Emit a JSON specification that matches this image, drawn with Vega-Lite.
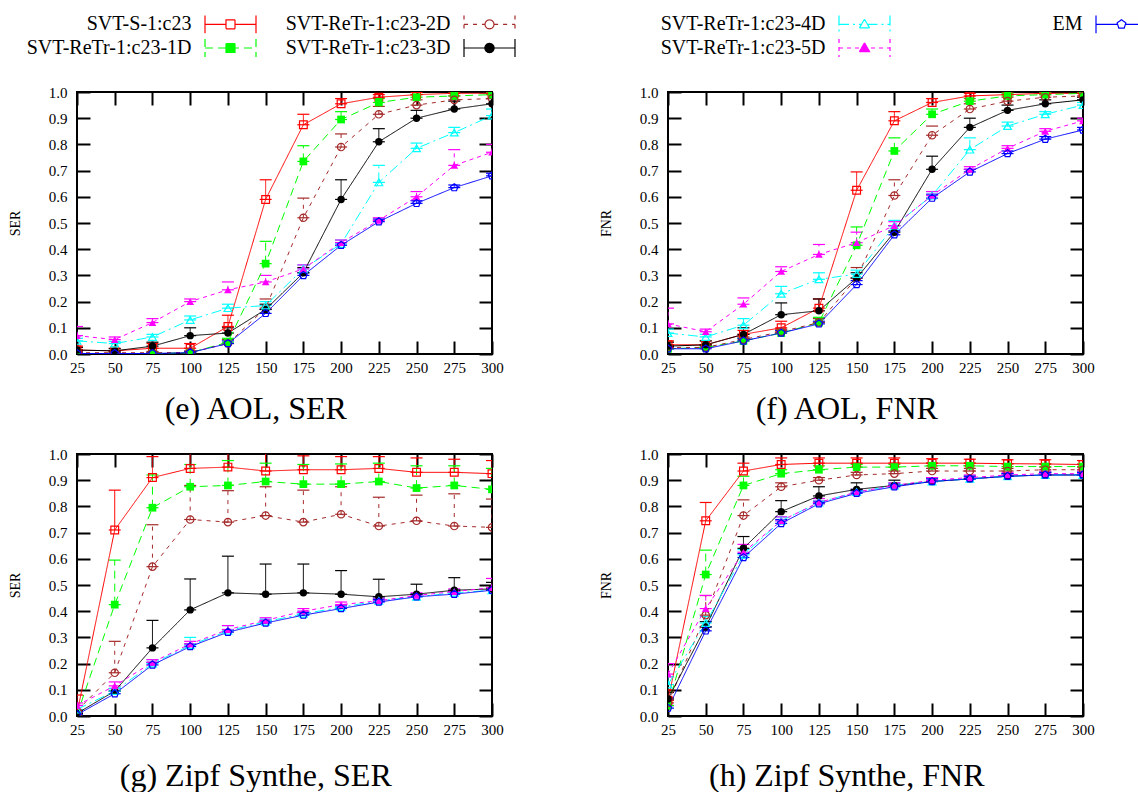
{
  "$schema": "https://vega.github.io/schema/vega-lite/v6.json",
  "padding": {"left": 7, "top": 14, "right": 0, "bottom": 0},
  "config": {
    "font": "Liberation Serif",
    "view": {"stroke": "black", "strokeWidth": 2},
    "axis": {"domain": false, "grid": false, "tickColor": "black", "tickWidth": 2, "tickSize": -13, "zindex": 1,
      "labelFont": "Liberation Serif", "labelFontSize": 15, "labelColor": "black",
      "titleFont": "Liberation Serif", "titleFontSize": 14, "titleFontWeight": "normal", "titleColor": "black"},
    "legend": {"padding": 0}
  },
  "datasets": {
    "runs": [
      {"p":"e","s":"SVT-S-1:c23","x":25,"y":0.015,"hi":0.03},{"p":"e","s":"SVT-S-1:c23","x":50,"y":0.012,"hi":0.022},{"p":"e","s":"SVT-S-1:c23","x":75,"y":0.022,"hi":0.04},{"p":"e","s":"SVT-S-1:c23","x":100,"y":0.022,"hi":0.04},{"p":"e","s":"SVT-S-1:c23","x":125,"y":0.105,"hi":0.148},{"p":"e","s":"SVT-S-1:c23","x":150,"y":0.59,"hi":0.665},{"p":"e","s":"SVT-S-1:c23","x":175,"y":0.875,"hi":0.915},{"p":"e","s":"SVT-S-1:c23","x":200,"y":0.955,"hi":0.975},{"p":"e","s":"SVT-S-1:c23","x":225,"y":0.98,"hi":0.99},{"p":"e","s":"SVT-S-1:c23","x":250,"y":0.99,"hi":0.998},{"p":"e","s":"SVT-S-1:c23","x":275,"y":0.995,"hi":1},{"p":"e","s":"SVT-S-1:c23","x":300,"y":0.995,"hi":1},
      {"p":"e","s":"SVT-ReTr-1:c23-1D","x":25,"y":0.002,"hi":0.006},{"p":"e","s":"SVT-ReTr-1:c23-1D","x":50,"y":0.002,"hi":0.006},{"p":"e","s":"SVT-ReTr-1:c23-1D","x":75,"y":0.002,"hi":0.006},{"p":"e","s":"SVT-ReTr-1:c23-1D","x":100,"y":0.005,"hi":0.01},{"p":"e","s":"SVT-ReTr-1:c23-1D","x":125,"y":0.045,"hi":0.06},{"p":"e","s":"SVT-ReTr-1:c23-1D","x":150,"y":0.345,"hi":0.43},{"p":"e","s":"SVT-ReTr-1:c23-1D","x":175,"y":0.735,"hi":0.795},{"p":"e","s":"SVT-ReTr-1:c23-1D","x":200,"y":0.895,"hi":0.925},{"p":"e","s":"SVT-ReTr-1:c23-1D","x":225,"y":0.96,"hi":0.975},{"p":"e","s":"SVT-ReTr-1:c23-1D","x":250,"y":0.98,"hi":0.99},{"p":"e","s":"SVT-ReTr-1:c23-1D","x":275,"y":0.985,"hi":0.995},{"p":"e","s":"SVT-ReTr-1:c23-1D","x":300,"y":0.99,"hi":0.998},
      {"p":"e","s":"SVT-ReTr-1:c23-2D","x":25,"y":0.005,"hi":0.01},{"p":"e","s":"SVT-ReTr-1:c23-2D","x":50,"y":0.005,"hi":0.01},{"p":"e","s":"SVT-ReTr-1:c23-2D","x":75,"y":0.005,"hi":0.01},{"p":"e","s":"SVT-ReTr-1:c23-2D","x":100,"y":0.006,"hi":0.012},{"p":"e","s":"SVT-ReTr-1:c23-2D","x":125,"y":0.04,"hi":0.055},{"p":"e","s":"SVT-ReTr-1:c23-2D","x":150,"y":0.175,"hi":0.21},{"p":"e","s":"SVT-ReTr-1:c23-2D","x":175,"y":0.52,"hi":0.595},{"p":"e","s":"SVT-ReTr-1:c23-2D","x":200,"y":0.79,"hi":0.84},{"p":"e","s":"SVT-ReTr-1:c23-2D","x":225,"y":0.915,"hi":0.945},{"p":"e","s":"SVT-ReTr-1:c23-2D","x":250,"y":0.95,"hi":0.97},{"p":"e","s":"SVT-ReTr-1:c23-2D","x":275,"y":0.97,"hi":0.985},{"p":"e","s":"SVT-ReTr-1:c23-2D","x":300,"y":0.975,"hi":0.99},
      {"p":"e","s":"SVT-ReTr-1:c23-3D","x":25,"y":0.015,"hi":0.025},{"p":"e","s":"SVT-ReTr-1:c23-3D","x":50,"y":0.012,"hi":0.02},{"p":"e","s":"SVT-ReTr-1:c23-3D","x":75,"y":0.03,"hi":0.045},{"p":"e","s":"SVT-ReTr-1:c23-3D","x":100,"y":0.07,"hi":0.1},{"p":"e","s":"SVT-ReTr-1:c23-3D","x":125,"y":0.08,"hi":0.1},{"p":"e","s":"SVT-ReTr-1:c23-3D","x":150,"y":0.17,"hi":0.19},{"p":"e","s":"SVT-ReTr-1:c23-3D","x":175,"y":0.31,"hi":0.33},{"p":"e","s":"SVT-ReTr-1:c23-3D","x":200,"y":0.59,"hi":0.665},{"p":"e","s":"SVT-ReTr-1:c23-3D","x":225,"y":0.81,"hi":0.86},{"p":"e","s":"SVT-ReTr-1:c23-3D","x":250,"y":0.9,"hi":0.93},{"p":"e","s":"SVT-ReTr-1:c23-3D","x":275,"y":0.935,"hi":0.965},{"p":"e","s":"SVT-ReTr-1:c23-3D","x":300,"y":0.955,"hi":0.975},
      {"p":"e","s":"SVT-ReTr-1:c23-4D","x":25,"y":0.05,"hi":0.06},{"p":"e","s":"SVT-ReTr-1:c23-4D","x":50,"y":0.04,"hi":0.048},{"p":"e","s":"SVT-ReTr-1:c23-4D","x":75,"y":0.065,"hi":0.075},{"p":"e","s":"SVT-ReTr-1:c23-4D","x":100,"y":0.13,"hi":0.145},{"p":"e","s":"SVT-ReTr-1:c23-4D","x":125,"y":0.175,"hi":0.19},{"p":"e","s":"SVT-ReTr-1:c23-4D","x":150,"y":0.185,"hi":0.2},{"p":"e","s":"SVT-ReTr-1:c23-4D","x":175,"y":0.325,"hi":0.34},{"p":"e","s":"SVT-ReTr-1:c23-4D","x":200,"y":0.42,"hi":0.435},{"p":"e","s":"SVT-ReTr-1:c23-4D","x":225,"y":0.655,"hi":0.72},{"p":"e","s":"SVT-ReTr-1:c23-4D","x":250,"y":0.785,"hi":0.805},{"p":"e","s":"SVT-ReTr-1:c23-4D","x":275,"y":0.845,"hi":0.865},{"p":"e","s":"SVT-ReTr-1:c23-4D","x":300,"y":0.91,"hi":0.935},
      {"p":"e","s":"SVT-ReTr-1:c23-5D","x":25,"y":0.07,"hi":0.105},{"p":"e","s":"SVT-ReTr-1:c23-5D","x":50,"y":0.055,"hi":0.065},{"p":"e","s":"SVT-ReTr-1:c23-5D","x":75,"y":0.12,"hi":0.135},{"p":"e","s":"SVT-ReTr-1:c23-5D","x":100,"y":0.2,"hi":0.21},{"p":"e","s":"SVT-ReTr-1:c23-5D","x":125,"y":0.245,"hi":0.275},{"p":"e","s":"SVT-ReTr-1:c23-5D","x":150,"y":0.275,"hi":0.3},{"p":"e","s":"SVT-ReTr-1:c23-5D","x":175,"y":0.325,"hi":0.34},{"p":"e","s":"SVT-ReTr-1:c23-5D","x":200,"y":0.425,"hi":0.435},{"p":"e","s":"SVT-ReTr-1:c23-5D","x":225,"y":0.51,"hi":0.52},{"p":"e","s":"SVT-ReTr-1:c23-5D","x":250,"y":0.6,"hi":0.62},{"p":"e","s":"SVT-ReTr-1:c23-5D","x":275,"y":0.72,"hi":0.78},{"p":"e","s":"SVT-ReTr-1:c23-5D","x":300,"y":0.77,"hi":0.8},
      {"p":"e","s":"EM","x":25,"y":0.002,"hi":0.006},{"p":"e","s":"EM","x":50,"y":0.002,"hi":0.006},{"p":"e","s":"EM","x":75,"y":0.002,"hi":0.006},{"p":"e","s":"EM","x":100,"y":0.005,"hi":0.01},{"p":"e","s":"EM","x":125,"y":0.04,"hi":0.05},{"p":"e","s":"EM","x":150,"y":0.155,"hi":0.17},{"p":"e","s":"EM","x":175,"y":0.3,"hi":0.31},{"p":"e","s":"EM","x":200,"y":0.415,"hi":0.425},{"p":"e","s":"EM","x":225,"y":0.505,"hi":0.515},{"p":"e","s":"EM","x":250,"y":0.575,"hi":0.585},{"p":"e","s":"EM","x":275,"y":0.635,"hi":0.645},{"p":"e","s":"EM","x":300,"y":0.68,"hi":0.69},

      {"p":"f","s":"SVT-S-1:c23","x":25,"y":0.035,"hi":0.05},{"p":"f","s":"SVT-S-1:c23","x":50,"y":0.035,"hi":0.05},{"p":"f","s":"SVT-S-1:c23","x":75,"y":0.075,"hi":0.09},{"p":"f","s":"SVT-S-1:c23","x":100,"y":0.1,"hi":0.125},{"p":"f","s":"SVT-S-1:c23","x":125,"y":0.175,"hi":0.21},{"p":"f","s":"SVT-S-1:c23","x":150,"y":0.625,"hi":0.695},{"p":"f","s":"SVT-S-1:c23","x":175,"y":0.89,"hi":0.925},{"p":"f","s":"SVT-S-1:c23","x":200,"y":0.96,"hi":0.975},{"p":"f","s":"SVT-S-1:c23","x":225,"y":0.985,"hi":0.995},{"p":"f","s":"SVT-S-1:c23","x":250,"y":0.99,"hi":1},{"p":"f","s":"SVT-S-1:c23","x":275,"y":0.995,"hi":1},{"p":"f","s":"SVT-S-1:c23","x":300,"y":0.995,"hi":1},
      {"p":"f","s":"SVT-ReTr-1:c23-1D","x":25,"y":0.02,"hi":0.03},{"p":"f","s":"SVT-ReTr-1:c23-1D","x":50,"y":0.025,"hi":0.035},{"p":"f","s":"SVT-ReTr-1:c23-1D","x":75,"y":0.05,"hi":0.06},{"p":"f","s":"SVT-ReTr-1:c23-1D","x":100,"y":0.08,"hi":0.09},{"p":"f","s":"SVT-ReTr-1:c23-1D","x":125,"y":0.12,"hi":0.14},{"p":"f","s":"SVT-ReTr-1:c23-1D","x":150,"y":0.415,"hi":0.485},{"p":"f","s":"SVT-ReTr-1:c23-1D","x":175,"y":0.775,"hi":0.825},{"p":"f","s":"SVT-ReTr-1:c23-1D","x":200,"y":0.915,"hi":0.935},{"p":"f","s":"SVT-ReTr-1:c23-1D","x":225,"y":0.965,"hi":0.975},{"p":"f","s":"SVT-ReTr-1:c23-1D","x":250,"y":0.985,"hi":0.995},{"p":"f","s":"SVT-ReTr-1:c23-1D","x":275,"y":0.99,"hi":0.998},{"p":"f","s":"SVT-ReTr-1:c23-1D","x":300,"y":0.995,"hi":1},
      {"p":"f","s":"SVT-ReTr-1:c23-2D","x":25,"y":0.025,"hi":0.035},{"p":"f","s":"SVT-ReTr-1:c23-2D","x":50,"y":0.025,"hi":0.035},{"p":"f","s":"SVT-ReTr-1:c23-2D","x":75,"y":0.055,"hi":0.065},{"p":"f","s":"SVT-ReTr-1:c23-2D","x":100,"y":0.085,"hi":0.095},{"p":"f","s":"SVT-ReTr-1:c23-2D","x":125,"y":0.12,"hi":0.135},{"p":"f","s":"SVT-ReTr-1:c23-2D","x":150,"y":0.29,"hi":0.33},{"p":"f","s":"SVT-ReTr-1:c23-2D","x":175,"y":0.605,"hi":0.665},{"p":"f","s":"SVT-ReTr-1:c23-2D","x":200,"y":0.835,"hi":0.87},{"p":"f","s":"SVT-ReTr-1:c23-2D","x":225,"y":0.935,"hi":0.955},{"p":"f","s":"SVT-ReTr-1:c23-2D","x":250,"y":0.965,"hi":0.98},{"p":"f","s":"SVT-ReTr-1:c23-2D","x":275,"y":0.98,"hi":0.99},{"p":"f","s":"SVT-ReTr-1:c23-2D","x":300,"y":0.985,"hi":0.995},
      {"p":"f","s":"SVT-ReTr-1:c23-3D","x":25,"y":0.03,"hi":0.045},{"p":"f","s":"SVT-ReTr-1:c23-3D","x":50,"y":0.035,"hi":0.05},{"p":"f","s":"SVT-ReTr-1:c23-3D","x":75,"y":0.075,"hi":0.1},{"p":"f","s":"SVT-ReTr-1:c23-3D","x":100,"y":0.15,"hi":0.195},{"p":"f","s":"SVT-ReTr-1:c23-3D","x":125,"y":0.165,"hi":0.21},{"p":"f","s":"SVT-ReTr-1:c23-3D","x":150,"y":0.29,"hi":0.31},{"p":"f","s":"SVT-ReTr-1:c23-3D","x":175,"y":0.465,"hi":0.49},{"p":"f","s":"SVT-ReTr-1:c23-3D","x":200,"y":0.705,"hi":0.755},{"p":"f","s":"SVT-ReTr-1:c23-3D","x":225,"y":0.865,"hi":0.9},{"p":"f","s":"SVT-ReTr-1:c23-3D","x":250,"y":0.93,"hi":0.95},{"p":"f","s":"SVT-ReTr-1:c23-3D","x":275,"y":0.955,"hi":0.97},{"p":"f","s":"SVT-ReTr-1:c23-3D","x":300,"y":0.97,"hi":0.98},
      {"p":"f","s":"SVT-ReTr-1:c23-4D","x":25,"y":0.08,"hi":0.095},{"p":"f","s":"SVT-ReTr-1:c23-4D","x":50,"y":0.065,"hi":0.075},{"p":"f","s":"SVT-ReTr-1:c23-4D","x":75,"y":0.11,"hi":0.135},{"p":"f","s":"SVT-ReTr-1:c23-4D","x":100,"y":0.23,"hi":0.258},{"p":"f","s":"SVT-ReTr-1:c23-4D","x":125,"y":0.285,"hi":0.31},{"p":"f","s":"SVT-ReTr-1:c23-4D","x":150,"y":0.305,"hi":0.32},{"p":"f","s":"SVT-ReTr-1:c23-4D","x":175,"y":0.49,"hi":0.51},{"p":"f","s":"SVT-ReTr-1:c23-4D","x":200,"y":0.605,"hi":0.62},{"p":"f","s":"SVT-ReTr-1:c23-4D","x":225,"y":0.78,"hi":0.825},{"p":"f","s":"SVT-ReTr-1:c23-4D","x":250,"y":0.87,"hi":0.885},{"p":"f","s":"SVT-ReTr-1:c23-4D","x":275,"y":0.915,"hi":0.925},{"p":"f","s":"SVT-ReTr-1:c23-4D","x":300,"y":0.95,"hi":0.96},
      {"p":"f","s":"SVT-ReTr-1:c23-5D","x":25,"y":0.115,"hi":0.175},{"p":"f","s":"SVT-ReTr-1:c23-5D","x":50,"y":0.085,"hi":0.095},{"p":"f","s":"SVT-ReTr-1:c23-5D","x":75,"y":0.19,"hi":0.214},{"p":"f","s":"SVT-ReTr-1:c23-5D","x":100,"y":0.315,"hi":0.333},{"p":"f","s":"SVT-ReTr-1:c23-5D","x":125,"y":0.38,"hi":0.418},{"p":"f","s":"SVT-ReTr-1:c23-5D","x":150,"y":0.425,"hi":0.465},{"p":"f","s":"SVT-ReTr-1:c23-5D","x":175,"y":0.49,"hi":0.505},{"p":"f","s":"SVT-ReTr-1:c23-5D","x":200,"y":0.605,"hi":0.62},{"p":"f","s":"SVT-ReTr-1:c23-5D","x":225,"y":0.705,"hi":0.715},{"p":"f","s":"SVT-ReTr-1:c23-5D","x":250,"y":0.785,"hi":0.795},{"p":"f","s":"SVT-ReTr-1:c23-5D","x":275,"y":0.85,"hi":0.86},{"p":"f","s":"SVT-ReTr-1:c23-5D","x":300,"y":0.89,"hi":0.9},
      {"p":"f","s":"EM","x":25,"y":0.02,"hi":0.03},{"p":"f","s":"EM","x":50,"y":0.02,"hi":0.03},{"p":"f","s":"EM","x":75,"y":0.05,"hi":0.06},{"p":"f","s":"EM","x":100,"y":0.08,"hi":0.09},{"p":"f","s":"EM","x":125,"y":0.115,"hi":0.125},{"p":"f","s":"EM","x":150,"y":0.265,"hi":0.28},{"p":"f","s":"EM","x":175,"y":0.455,"hi":0.47},{"p":"f","s":"EM","x":200,"y":0.595,"hi":0.61},{"p":"f","s":"EM","x":225,"y":0.695,"hi":0.705},{"p":"f","s":"EM","x":250,"y":0.765,"hi":0.775},{"p":"f","s":"EM","x":275,"y":0.82,"hi":0.83},{"p":"f","s":"EM","x":300,"y":0.855,"hi":0.865},

      {"p":"g","s":"SVT-S-1:c23","x":25,"y":0.01,"hi":0.08},{"p":"g","s":"SVT-S-1:c23","x":50,"y":0.71,"hi":0.862},{"p":"g","s":"SVT-S-1:c23","x":75,"y":0.91,"hi":0.99},{"p":"g","s":"SVT-S-1:c23","x":100,"y":0.945,"hi":1.05},{"p":"g","s":"SVT-S-1:c23","x":125,"y":0.95,"hi":1.05},{"p":"g","s":"SVT-S-1:c23","x":150,"y":0.935,"hi":1.02},{"p":"g","s":"SVT-S-1:c23","x":175,"y":0.94,"hi":0.993},{"p":"g","s":"SVT-S-1:c23","x":200,"y":0.94,"hi":0.99},{"p":"g","s":"SVT-S-1:c23","x":225,"y":0.945,"hi":0.99},{"p":"g","s":"SVT-S-1:c23","x":250,"y":0.93,"hi":0.985},{"p":"g","s":"SVT-S-1:c23","x":275,"y":0.93,"hi":0.98},{"p":"g","s":"SVT-S-1:c23","x":300,"y":0.925,"hi":0.975},
      {"p":"g","s":"SVT-ReTr-1:c23-1D","x":25,"y":0.005,"hi":0.02},{"p":"g","s":"SVT-ReTr-1:c23-1D","x":50,"y":0.425,"hi":0.595},{"p":"g","s":"SVT-ReTr-1:c23-1D","x":75,"y":0.795,"hi":0.92},{"p":"g","s":"SVT-ReTr-1:c23-1D","x":100,"y":0.875,"hi":0.96},{"p":"g","s":"SVT-ReTr-1:c23-1D","x":125,"y":0.88,"hi":0.975},{"p":"g","s":"SVT-ReTr-1:c23-1D","x":150,"y":0.895,"hi":0.965},{"p":"g","s":"SVT-ReTr-1:c23-1D","x":175,"y":0.885,"hi":0.96},{"p":"g","s":"SVT-ReTr-1:c23-1D","x":200,"y":0.885,"hi":0.962},{"p":"g","s":"SVT-ReTr-1:c23-1D","x":225,"y":0.895,"hi":0.965},{"p":"g","s":"SVT-ReTr-1:c23-1D","x":250,"y":0.87,"hi":0.955},{"p":"g","s":"SVT-ReTr-1:c23-1D","x":275,"y":0.88,"hi":0.955},{"p":"g","s":"SVT-ReTr-1:c23-1D","x":300,"y":0.865,"hi":0.945},
      {"p":"g","s":"SVT-ReTr-1:c23-2D","x":25,"y":0.02,"hi":0.04},{"p":"g","s":"SVT-ReTr-1:c23-2D","x":50,"y":0.165,"hi":0.285},{"p":"g","s":"SVT-ReTr-1:c23-2D","x":75,"y":0.57,"hi":0.73},{"p":"g","s":"SVT-ReTr-1:c23-2D","x":100,"y":0.75,"hi":0.88},{"p":"g","s":"SVT-ReTr-1:c23-2D","x":125,"y":0.74,"hi":0.86},{"p":"g","s":"SVT-ReTr-1:c23-2D","x":150,"y":0.765,"hi":0.875},{"p":"g","s":"SVT-ReTr-1:c23-2D","x":175,"y":0.74,"hi":0.862},{"p":"g","s":"SVT-ReTr-1:c23-2D","x":200,"y":0.77,"hi":0.875},{"p":"g","s":"SVT-ReTr-1:c23-2D","x":225,"y":0.725,"hi":0.835},{"p":"g","s":"SVT-ReTr-1:c23-2D","x":250,"y":0.745,"hi":0.843},{"p":"g","s":"SVT-ReTr-1:c23-2D","x":275,"y":0.725,"hi":0.848},{"p":"g","s":"SVT-ReTr-1:c23-2D","x":300,"y":0.72,"hi":0.828},
      {"p":"g","s":"SVT-ReTr-1:c23-3D","x":25,"y":0.01,"hi":0.02},{"p":"g","s":"SVT-ReTr-1:c23-3D","x":50,"y":0.095,"hi":0.105},{"p":"g","s":"SVT-ReTr-1:c23-3D","x":75,"y":0.26,"hi":0.365},{"p":"g","s":"SVT-ReTr-1:c23-3D","x":100,"y":0.405,"hi":0.523},{"p":"g","s":"SVT-ReTr-1:c23-3D","x":125,"y":0.47,"hi":0.61},{"p":"g","s":"SVT-ReTr-1:c23-3D","x":150,"y":0.465,"hi":0.58},{"p":"g","s":"SVT-ReTr-1:c23-3D","x":175,"y":0.47,"hi":0.58},{"p":"g","s":"SVT-ReTr-1:c23-3D","x":200,"y":0.465,"hi":0.555},{"p":"g","s":"SVT-ReTr-1:c23-3D","x":225,"y":0.455,"hi":0.522},{"p":"g","s":"SVT-ReTr-1:c23-3D","x":250,"y":0.465,"hi":0.503},{"p":"g","s":"SVT-ReTr-1:c23-3D","x":275,"y":0.48,"hi":0.528},{"p":"g","s":"SVT-ReTr-1:c23-3D","x":300,"y":0.485,"hi":0.51},
      {"p":"g","s":"SVT-ReTr-1:c23-4D","x":25,"y":0.025,"hi":0.04},{"p":"g","s":"SVT-ReTr-1:c23-4D","x":50,"y":0.095,"hi":0.105},{"p":"g","s":"SVT-ReTr-1:c23-4D","x":75,"y":0.2,"hi":0.215},{"p":"g","s":"SVT-ReTr-1:c23-4D","x":100,"y":0.27,"hi":0.3},{"p":"g","s":"SVT-ReTr-1:c23-4D","x":125,"y":0.325,"hi":0.345},{"p":"g","s":"SVT-ReTr-1:c23-4D","x":150,"y":0.36,"hi":0.37},{"p":"g","s":"SVT-ReTr-1:c23-4D","x":175,"y":0.39,"hi":0.4},{"p":"g","s":"SVT-ReTr-1:c23-4D","x":200,"y":0.415,"hi":0.425},{"p":"g","s":"SVT-ReTr-1:c23-4D","x":225,"y":0.44,"hi":0.45},{"p":"g","s":"SVT-ReTr-1:c23-4D","x":250,"y":0.455,"hi":0.465},{"p":"g","s":"SVT-ReTr-1:c23-4D","x":275,"y":0.47,"hi":0.48},{"p":"g","s":"SVT-ReTr-1:c23-4D","x":300,"y":0.48,"hi":0.49},
      {"p":"g","s":"SVT-ReTr-1:c23-5D","x":25,"y":0.04,"hi":0.05},{"p":"g","s":"SVT-ReTr-1:c23-5D","x":50,"y":0.115,"hi":0.13},{"p":"g","s":"SVT-ReTr-1:c23-5D","x":75,"y":0.205,"hi":0.215},{"p":"g","s":"SVT-ReTr-1:c23-5D","x":100,"y":0.275,"hi":0.285},{"p":"g","s":"SVT-ReTr-1:c23-5D","x":125,"y":0.33,"hi":0.345},{"p":"g","s":"SVT-ReTr-1:c23-5D","x":150,"y":0.365,"hi":0.375},{"p":"g","s":"SVT-ReTr-1:c23-5D","x":175,"y":0.4,"hi":0.41},{"p":"g","s":"SVT-ReTr-1:c23-5D","x":200,"y":0.425,"hi":0.435},{"p":"g","s":"SVT-ReTr-1:c23-5D","x":225,"y":0.44,"hi":0.45},{"p":"g","s":"SVT-ReTr-1:c23-5D","x":250,"y":0.46,"hi":0.47},{"p":"g","s":"SVT-ReTr-1:c23-5D","x":275,"y":0.475,"hi":0.485},{"p":"g","s":"SVT-ReTr-1:c23-5D","x":300,"y":0.49,"hi":0.525},
      {"p":"g","s":"EM","x":25,"y":0.005,"hi":0.012},{"p":"g","s":"EM","x":50,"y":0.085,"hi":0.095},{"p":"g","s":"EM","x":75,"y":0.195,"hi":0.205},{"p":"g","s":"EM","x":100,"y":0.265,"hi":0.275},{"p":"g","s":"EM","x":125,"y":0.32,"hi":0.33},{"p":"g","s":"EM","x":150,"y":0.355,"hi":0.365},{"p":"g","s":"EM","x":175,"y":0.385,"hi":0.395},{"p":"g","s":"EM","x":200,"y":0.41,"hi":0.42},{"p":"g","s":"EM","x":225,"y":0.435,"hi":0.445},{"p":"g","s":"EM","x":250,"y":0.455,"hi":0.465},{"p":"g","s":"EM","x":275,"y":0.465,"hi":0.475},{"p":"g","s":"EM","x":300,"y":0.48,"hi":0.49},

      {"p":"h","s":"SVT-S-1:c23","x":25,"y":0.06,"hi":0.1},{"p":"h","s":"SVT-S-1:c23","x":50,"y":0.745,"hi":0.815},{"p":"h","s":"SVT-S-1:c23","x":75,"y":0.935,"hi":0.965},{"p":"h","s":"SVT-S-1:c23","x":100,"y":0.96,"hi":0.985},{"p":"h","s":"SVT-S-1:c23","x":125,"y":0.965,"hi":0.985},{"p":"h","s":"SVT-S-1:c23","x":150,"y":0.965,"hi":0.985},{"p":"h","s":"SVT-S-1:c23","x":175,"y":0.965,"hi":0.985},{"p":"h","s":"SVT-S-1:c23","x":200,"y":0.965,"hi":0.982},{"p":"h","s":"SVT-S-1:c23","x":225,"y":0.965,"hi":0.98},{"p":"h","s":"SVT-S-1:c23","x":250,"y":0.963,"hi":0.978},{"p":"h","s":"SVT-S-1:c23","x":275,"y":0.962,"hi":0.978},{"p":"h","s":"SVT-S-1:c23","x":300,"y":0.96,"hi":0.975},
      {"p":"h","s":"SVT-ReTr-1:c23-1D","x":25,"y":0.04,"hi":0.06},{"p":"h","s":"SVT-ReTr-1:c23-1D","x":50,"y":0.54,"hi":0.633},{"p":"h","s":"SVT-ReTr-1:c23-1D","x":75,"y":0.88,"hi":0.915},{"p":"h","s":"SVT-ReTr-1:c23-1D","x":100,"y":0.925,"hi":0.94},{"p":"h","s":"SVT-ReTr-1:c23-1D","x":125,"y":0.94,"hi":0.955},{"p":"h","s":"SVT-ReTr-1:c23-1D","x":150,"y":0.95,"hi":0.96},{"p":"h","s":"SVT-ReTr-1:c23-1D","x":175,"y":0.95,"hi":0.96},{"p":"h","s":"SVT-ReTr-1:c23-1D","x":200,"y":0.955,"hi":0.965},{"p":"h","s":"SVT-ReTr-1:c23-1D","x":225,"y":0.955,"hi":0.965},{"p":"h","s":"SVT-ReTr-1:c23-1D","x":250,"y":0.952,"hi":0.962},{"p":"h","s":"SVT-ReTr-1:c23-1D","x":275,"y":0.952,"hi":0.962},{"p":"h","s":"SVT-ReTr-1:c23-1D","x":300,"y":0.952,"hi":0.962},
      {"p":"h","s":"SVT-ReTr-1:c23-2D","x":25,"y":0.05,"hi":0.07},{"p":"h","s":"SVT-ReTr-1:c23-2D","x":50,"y":0.385,"hi":0.46},{"p":"h","s":"SVT-ReTr-1:c23-2D","x":75,"y":0.765,"hi":0.825},{"p":"h","s":"SVT-ReTr-1:c23-2D","x":100,"y":0.875,"hi":0.89},{"p":"h","s":"SVT-ReTr-1:c23-2D","x":125,"y":0.9,"hi":0.91},{"p":"h","s":"SVT-ReTr-1:c23-2D","x":150,"y":0.92,"hi":0.93},{"p":"h","s":"SVT-ReTr-1:c23-2D","x":175,"y":0.925,"hi":0.935},{"p":"h","s":"SVT-ReTr-1:c23-2D","x":200,"y":0.935,"hi":0.945},{"p":"h","s":"SVT-ReTr-1:c23-2D","x":225,"y":0.935,"hi":0.945},{"p":"h","s":"SVT-ReTr-1:c23-2D","x":250,"y":0.935,"hi":0.945},{"p":"h","s":"SVT-ReTr-1:c23-2D","x":275,"y":0.94,"hi":0.95},{"p":"h","s":"SVT-ReTr-1:c23-2D","x":300,"y":0.94,"hi":0.95},
      {"p":"h","s":"SVT-ReTr-1:c23-3D","x":25,"y":0.065,"hi":0.09},{"p":"h","s":"SVT-ReTr-1:c23-3D","x":50,"y":0.34,"hi":0.36},{"p":"h","s":"SVT-ReTr-1:c23-3D","x":75,"y":0.64,"hi":0.685},{"p":"h","s":"SVT-ReTr-1:c23-3D","x":100,"y":0.78,"hi":0.822},{"p":"h","s":"SVT-ReTr-1:c23-3D","x":125,"y":0.84,"hi":0.875},{"p":"h","s":"SVT-ReTr-1:c23-3D","x":150,"y":0.865,"hi":0.89},{"p":"h","s":"SVT-ReTr-1:c23-3D","x":175,"y":0.88,"hi":0.9},{"p":"h","s":"SVT-ReTr-1:c23-3D","x":200,"y":0.895,"hi":0.91},{"p":"h","s":"SVT-ReTr-1:c23-3D","x":225,"y":0.905,"hi":0.915},{"p":"h","s":"SVT-ReTr-1:c23-3D","x":250,"y":0.915,"hi":0.925},{"p":"h","s":"SVT-ReTr-1:c23-3D","x":275,"y":0.92,"hi":0.93},{"p":"h","s":"SVT-ReTr-1:c23-3D","x":300,"y":0.92,"hi":0.93},
      {"p":"h","s":"SVT-ReTr-1:c23-4D","x":25,"y":0.12,"hi":0.15},{"p":"h","s":"SVT-ReTr-1:c23-4D","x":50,"y":0.355,"hi":0.38},{"p":"h","s":"SVT-ReTr-1:c23-4D","x":75,"y":0.615,"hi":0.635},{"p":"h","s":"SVT-ReTr-1:c23-4D","x":100,"y":0.745,"hi":0.76},{"p":"h","s":"SVT-ReTr-1:c23-4D","x":125,"y":0.815,"hi":0.83},{"p":"h","s":"SVT-ReTr-1:c23-4D","x":150,"y":0.855,"hi":0.865},{"p":"h","s":"SVT-ReTr-1:c23-4D","x":175,"y":0.88,"hi":0.89},{"p":"h","s":"SVT-ReTr-1:c23-4D","x":200,"y":0.895,"hi":0.905},{"p":"h","s":"SVT-ReTr-1:c23-4D","x":225,"y":0.905,"hi":0.915},{"p":"h","s":"SVT-ReTr-1:c23-4D","x":250,"y":0.915,"hi":0.925},{"p":"h","s":"SVT-ReTr-1:c23-4D","x":275,"y":0.92,"hi":0.93},{"p":"h","s":"SVT-ReTr-1:c23-4D","x":300,"y":0.92,"hi":0.93},
      {"p":"h","s":"SVT-ReTr-1:c23-5D","x":25,"y":0.16,"hi":0.2},{"p":"h","s":"SVT-ReTr-1:c23-5D","x":50,"y":0.41,"hi":0.46},{"p":"h","s":"SVT-ReTr-1:c23-5D","x":75,"y":0.625,"hi":0.655},{"p":"h","s":"SVT-ReTr-1:c23-5D","x":100,"y":0.745,"hi":0.76},{"p":"h","s":"SVT-ReTr-1:c23-5D","x":125,"y":0.815,"hi":0.83},{"p":"h","s":"SVT-ReTr-1:c23-5D","x":150,"y":0.855,"hi":0.865},{"p":"h","s":"SVT-ReTr-1:c23-5D","x":175,"y":0.88,"hi":0.89},{"p":"h","s":"SVT-ReTr-1:c23-5D","x":200,"y":0.9,"hi":0.91},{"p":"h","s":"SVT-ReTr-1:c23-5D","x":225,"y":0.91,"hi":0.92},{"p":"h","s":"SVT-ReTr-1:c23-5D","x":250,"y":0.92,"hi":0.93},{"p":"h","s":"SVT-ReTr-1:c23-5D","x":275,"y":0.925,"hi":0.935},{"p":"h","s":"SVT-ReTr-1:c23-5D","x":300,"y":0.925,"hi":0.935},
      {"p":"h","s":"EM","x":25,"y":0.03,"hi":0.04},{"p":"h","s":"EM","x":50,"y":0.325,"hi":0.34},{"p":"h","s":"EM","x":75,"y":0.605,"hi":0.62},{"p":"h","s":"EM","x":100,"y":0.735,"hi":0.75},{"p":"h","s":"EM","x":125,"y":0.81,"hi":0.82},{"p":"h","s":"EM","x":150,"y":0.85,"hi":0.86},{"p":"h","s":"EM","x":175,"y":0.875,"hi":0.885},{"p":"h","s":"EM","x":200,"y":0.895,"hi":0.905},{"p":"h","s":"EM","x":225,"y":0.905,"hi":0.915},{"p":"h","s":"EM","x":250,"y":0.915,"hi":0.925},{"p":"h","s":"EM","x":275,"y":0.92,"hi":0.93},{"p":"h","s":"EM","x":300,"y":0.92,"hi":0.93}
    ]
  },
  "spacing": 20,
  "vconcat": [
    {
      "spacing": 93,
      "hconcat": [
        {
          "width": 415, "height": 262,
          "data": {"name": "runs"},
          "transform": [{"filter": "datum.p === 'e'"}],
          "title": {"text": "(e) AOL, SER", "orient": "bottom", "anchor": "middle", "frame": "bounds", "offset": 19, "font": "Liberation Serif", "fontSize": 32, "fontWeight": "normal", "color": "black"},
          "encoding": {
            "x": {"field": "x", "type": "quantitative", "scale": {"domain": [25, 300], "nice": false, "zero": false}, "axis": null},
            "y": {"field": "y", "type": "quantitative", "scale": {"domain": [0, 1], "nice": false, "zero": false}, "axis": null}
          },
          "layer": [
            {"mark": {"type": "rule", "strokeWidth": 1, "clip": true},
             "encoding": {
               "x": {"field": "x", "type": "quantitative", "scale": {"domain": [25, 300], "nice": false, "zero": false}, "axis": {"orient": "bottom", "title": null, "values": [25,50,75,100,125,150,175,200,225,250,275,300], "labelFlush": false, "labelPadding": 19}},
               "y": {"field": "y", "type": "quantitative", "scale": {"domain": [0, 1], "nice": false, "zero": false}, "axis": {"orient": "left", "title": "SER", "values": [0,0.1,0.2,0.3,0.4,0.5,0.6,0.7,0.8,0.9,1], "format": ".1f", "labelPadding": 23, "titlePadding": 26}},
               "y2": {"field": "hi"},
               "color": {"field": "s", "type": "nominal", "scale": {"domain": ["SVT-S-1:c23","SVT-ReTr-1:c23-1D","SVT-ReTr-1:c23-2D","SVT-ReTr-1:c23-3D","SVT-ReTr-1:c23-4D","SVT-ReTr-1:c23-5D","EM"], "range": ["#ff0000","#00ff00","#a52a2a","#000000","#00ffff","#ff00ff","#0000ff"]}},
               "strokeDash": {"field": "s", "type": "nominal", "scale": {"domain": ["SVT-S-1:c23","SVT-ReTr-1:c23-1D","SVT-ReTr-1:c23-2D","SVT-ReTr-1:c23-3D","SVT-ReTr-1:c23-4D","SVT-ReTr-1:c23-5D","EM"], "range": [[1,0],[8,5],[4,5],[1,0],[10,4,2,4],[4,4],[1,0]]}}
             }},
            {"mark": {"type": "point", "shape": "stroke", "filled": false, "size": 144, "strokeWidth": 1.2, "opacity": 1, "clip": true},
             "encoding": {
               "x": {"field": "x", "type": "quantitative", "axis": {"orient": "top", "title": null, "labels": false, "values": [25,50,75,100,125,150,175,200,225,250,275,300]}},
               "y": {"field": "hi", "type": "quantitative", "axis": {"orient": "right", "title": null, "labels": false, "values": [0,0.1,0.2,0.3,0.4,0.5,0.6,0.7,0.8,0.9,1]}},
               "color": {"field": "s", "type": "nominal"}
             }},
            {"mark": {"type": "point", "shape": "stroke", "filled": false, "size": 144, "strokeWidth": 1.2, "opacity": 1, "clip": true},
             "encoding": {"color": {"field": "s", "type": "nominal"}}},
            {"mark": {"type": "line", "strokeWidth": 1, "clip": true},
             "encoding": {"color": {"field": "s", "type": "nominal"}, "strokeDash": {"field": "s", "type": "nominal"}}},
            {"transform": [{"filter": "datum.s === 'SVT-S-1:c23'"}], "mark": {"type": "point", "shape": "square", "filled": false, "color": "#ff0000", "size": 60, "strokeWidth": 1.2, "opacity": 1, "clip": true}},
            {"transform": [{"filter": "datum.s === 'SVT-ReTr-1:c23-1D'"}], "mark": {"type": "point", "shape": "square", "filled": true, "color": "#00ff00", "size": 60, "opacity": 1, "clip": true}},
            {"transform": [{"filter": "datum.s === 'SVT-ReTr-1:c23-2D'"}], "mark": {"type": "point", "shape": "circle", "filled": false, "color": "#a52a2a", "size": 55, "strokeWidth": 1.2, "opacity": 1, "clip": true}},
            {"transform": [{"filter": "datum.s === 'SVT-ReTr-1:c23-3D'"}], "mark": {"type": "point", "shape": "circle", "filled": true, "color": "#000000", "size": 55, "opacity": 1, "clip": true}},
            {"transform": [{"filter": "datum.s === 'SVT-ReTr-1:c23-4D'"}], "mark": {"type": "point", "shape": "triangle-up", "filled": false, "color": "#00ffff", "size": 60, "strokeWidth": 1.2, "opacity": 1, "clip": true}},
            {"transform": [{"filter": "datum.s === 'SVT-ReTr-1:c23-5D'"}], "mark": {"type": "point", "shape": "triangle-up", "filled": true, "color": "#ff00ff", "size": 60, "opacity": 1, "clip": true}},
            {"transform": [{"filter": "datum.s === 'EM'"}], "mark": {"type": "point", "shape": "M0,-1L0.951,-0.309L0.588,0.809L-0.588,0.809L-0.951,-0.309Z", "filled": false, "color": "#0000ff", "size": 60, "strokeWidth": 1.2, "opacity": 1, "clip": true}},
            {"transform": [{"filter": "datum.x < 0"}],
             "mark": {"type": "point", "filled": false, "opacity": 1, "size": 324, "strokeWidth": 1.2},
             "encoding": {
               "color": {"field": "s", "type": "nominal"},
               "strokeDash": {"field": "s", "type": "nominal"},
               "fill": {"field": "s", "type": "nominal", "scale": {"domain": ["SVT-S-1:c23","SVT-ReTr-1:c23-1D","SVT-ReTr-1:c23-2D","SVT-ReTr-1:c23-3D","SVT-ReTr-1:c23-4D","SVT-ReTr-1:c23-5D","EM"], "range": ["transparent","#00ff00","transparent","#000000","transparent","#ff00ff","transparent"]}},
               "shape": {"field": "s", "type": "nominal",
                 "scale": {"domain": ["SVT-S-1:c23","SVT-ReTr-1:c23-1D","SVT-ReTr-1:c23-2D","SVT-ReTr-1:c23-3D","SVT-ReTr-1:c23-4D","SVT-ReTr-1:c23-5D","EM"],
                   "range": [
                     "M-25.39,0M-2.833,-0.992V0.992M2.833,-0.992V0.992M-2.833,0H-0.5M0.5,0H2.833M-0.5,-0.5H0.5V0.5H-0.5Z",
                     "M-25.39,0M-2.833,-0.992V0.992M2.833,-0.992V0.992M-2.833,0H2.833M-0.5,-0.5H0.5V0.5H-0.5ZM-0.5,-0.5H0M0,-0.5H0.5M0.5,-0.5V0M0.5,0V0.5M0.5,0.5H0M0,0.5H-0.5M-0.5,0.5V0M-0.5,0V-0.5",
                     "M-25.39,0M-2.833,-0.992V0.992M2.833,-0.992V0.992M-2.833,0H-0.51M0.51,0H2.833M0.51,0L0.442,0.255M0.442,0.255L0.255,0.442M0.255,0.442L0,0.51M0,0.51L-0.255,0.442M-0.255,0.442L-0.442,0.255M-0.442,0.255L-0.51,0M-0.51,0L-0.442,-0.255M-0.442,-0.255L-0.255,-0.442M-0.255,-0.442L0,-0.51M0,-0.51L0.255,-0.442M0.255,-0.442L0.442,-0.255M0.442,-0.255L0.51,0",
                     "M-25.39,0M-2.833,-0.992V0.992M2.833,-0.992V0.992M-2.833,0H2.833M0.51,0A0.51,0.51,0,1,1,-0.51,0A0.51,0.51,0,1,1,0.51,0Z",
                     "M-38.19,0M-2.833,-0.992V0.992M2.833,-0.992V0.992M-2.833,0H-0.334M0.334,0H2.833M0,-0.567L0.283,-0.085M0.283,-0.085L0.567,0.397M0.567,0.397L0,0.397M0,0.397L-0.567,0.397M-0.567,0.397L-0.283,-0.085M-0.283,-0.085L0,-0.567",
                     "M-38.19,0M-2.833,-0.992V0.992M2.833,-0.992V0.992M-2.833,0H2.833M0,-0.567L0.567,0.397L-0.567,0.397ZM0,-0.567L0.189,-0.246M0.189,-0.246L0.378,0.076M0.378,0.076L0.567,0.397M0.567,0.397L0.189,0.397M0.189,0.397L-0.189,0.397M-0.189,0.397L-0.567,0.397M-0.567,0.397L-0.378,0.076M-0.378,0.076L-0.189,-0.246M-0.189,-0.246L0,-0.567",
                     "M-25.14,0M-2.833,-0.992V0.992M2.833,-0.992V0.992M-2.833,0H-0.434M0.434,0H2.833M0,-0.51L0.485,-0.159L0.3,0.414L-0.3,0.414L-0.485,-0.159Z"
                   ]},
                 "legend": {
                   "values": ["SVT-S-1:c23","SVT-ReTr-1:c23-2D","SVT-ReTr-1:c23-4D","EM","SVT-ReTr-1:c23-1D","SVT-ReTr-1:c23-3D","SVT-ReTr-1:c23-5D"],
                   "orient": "none", "legendX": 143.5, "legendY": -78, "direction": "horizontal",
                   "columns": 4, "columnPadding": 0, "rowPadding": 0, "gridAlign": "each", "title": null,
                   "labelFont": "Liberation Serif", "labelFontSize": 20, "labelColor": "black",
                   "labelAlign": "right", "labelOffset": -49, "labelLimit": 400,
                   "symbolSize": 324, "symbolStrokeWidth": 1.2, "symbolOpacity": 1, "symbolOffset": 0
                 }}
             }}
          ],
          "resolve": {"axis": {"x": "independent", "y": "independent"}}
        },
        {
          "width": 415, "height": 262,
          "data": {"name": "runs"},
          "transform": [{"filter": "datum.p === 'f'"}],
          "title": {"text": "(f) AOL, FNR", "orient": "bottom", "anchor": "middle", "frame": "bounds", "offset": 19, "font": "Liberation Serif", "fontSize": 32, "fontWeight": "normal", "color": "black"},
          "encoding": {
            "x": {"field": "x", "type": "quantitative", "scale": {"domain": [25, 300], "nice": false, "zero": false}, "axis": null},
            "y": {"field": "y", "type": "quantitative", "scale": {"domain": [0, 1], "nice": false, "zero": false}, "axis": null}
          },
          "layer": [
            {"mark": {"type": "rule", "strokeWidth": 1, "clip": true},
             "encoding": {
               "x": {"field": "x", "type": "quantitative", "scale": {"domain": [25, 300], "nice": false, "zero": false}, "axis": {"orient": "bottom", "title": null, "values": [25,50,75,100,125,150,175,200,225,250,275,300], "labelFlush": false, "labelPadding": 19}},
               "y": {"field": "y", "type": "quantitative", "scale": {"domain": [0, 1], "nice": false, "zero": false}, "axis": {"orient": "left", "title": "FNR", "values": [0,0.1,0.2,0.3,0.4,0.5,0.6,0.7,0.8,0.9,1], "format": ".1f", "labelPadding": 23, "titlePadding": 26}},
               "y2": {"field": "hi"},
               "color": {"field": "s", "type": "nominal"},
               "strokeDash": {"field": "s", "type": "nominal"}
             }},
            {"mark": {"type": "point", "shape": "stroke", "filled": false, "size": 144, "strokeWidth": 1.2, "opacity": 1, "clip": true},
             "encoding": {
               "x": {"field": "x", "type": "quantitative", "axis": {"orient": "top", "title": null, "labels": false, "values": [25,50,75,100,125,150,175,200,225,250,275,300]}},
               "y": {"field": "hi", "type": "quantitative", "axis": {"orient": "right", "title": null, "labels": false, "values": [0,0.1,0.2,0.3,0.4,0.5,0.6,0.7,0.8,0.9,1]}},
               "color": {"field": "s", "type": "nominal"}
             }},
            {"mark": {"type": "point", "shape": "stroke", "filled": false, "size": 144, "strokeWidth": 1.2, "opacity": 1, "clip": true},
             "encoding": {"color": {"field": "s", "type": "nominal"}}},
            {"mark": {"type": "line", "strokeWidth": 1, "clip": true},
             "encoding": {"color": {"field": "s", "type": "nominal"}, "strokeDash": {"field": "s", "type": "nominal"}}},
            {"transform": [{"filter": "datum.s === 'SVT-S-1:c23'"}], "mark": {"type": "point", "shape": "square", "filled": false, "color": "#ff0000", "size": 60, "strokeWidth": 1.2, "opacity": 1, "clip": true}},
            {"transform": [{"filter": "datum.s === 'SVT-ReTr-1:c23-1D'"}], "mark": {"type": "point", "shape": "square", "filled": true, "color": "#00ff00", "size": 60, "opacity": 1, "clip": true}},
            {"transform": [{"filter": "datum.s === 'SVT-ReTr-1:c23-2D'"}], "mark": {"type": "point", "shape": "circle", "filled": false, "color": "#a52a2a", "size": 55, "strokeWidth": 1.2, "opacity": 1, "clip": true}},
            {"transform": [{"filter": "datum.s === 'SVT-ReTr-1:c23-3D'"}], "mark": {"type": "point", "shape": "circle", "filled": true, "color": "#000000", "size": 55, "opacity": 1, "clip": true}},
            {"transform": [{"filter": "datum.s === 'SVT-ReTr-1:c23-4D'"}], "mark": {"type": "point", "shape": "triangle-up", "filled": false, "color": "#00ffff", "size": 60, "strokeWidth": 1.2, "opacity": 1, "clip": true}},
            {"transform": [{"filter": "datum.s === 'SVT-ReTr-1:c23-5D'"}], "mark": {"type": "point", "shape": "triangle-up", "filled": true, "color": "#ff00ff", "size": 60, "opacity": 1, "clip": true}},
            {"transform": [{"filter": "datum.s === 'EM'"}], "mark": {"type": "point", "shape": "M0,-1L0.951,-0.309L0.588,0.809L-0.588,0.809L-0.951,-0.309Z", "filled": false, "color": "#0000ff", "size": 60, "strokeWidth": 1.2, "opacity": 1, "clip": true}}
          ],
          "resolve": {"axis": {"x": "independent", "y": "independent"}}
        }
      ]
    },
    {
      "spacing": 93,
      "hconcat": [
        {
          "width": 415, "height": 262,
          "data": {"name": "runs"},
          "transform": [{"filter": "datum.p === 'g'"}],
          "title": {"text": "(g) Zipf Synthe, SER", "orient": "bottom", "anchor": "middle", "frame": "bounds", "offset": 24, "font": "Liberation Serif", "fontSize": 32, "fontWeight": "normal", "color": "black"},
          "encoding": {
            "x": {"field": "x", "type": "quantitative", "scale": {"domain": [25, 300], "nice": false, "zero": false}, "axis": null},
            "y": {"field": "y", "type": "quantitative", "scale": {"domain": [0, 1], "nice": false, "zero": false}, "axis": null}
          },
          "layer": [
            {"mark": {"type": "rule", "strokeWidth": 1, "clip": true},
             "encoding": {
               "x": {"field": "x", "type": "quantitative", "scale": {"domain": [25, 300], "nice": false, "zero": false}, "axis": {"orient": "bottom", "title": null, "values": [25,50,75,100,125,150,175,200,225,250,275,300], "labelFlush": false, "labelPadding": 19}},
               "y": {"field": "y", "type": "quantitative", "scale": {"domain": [0, 1], "nice": false, "zero": false}, "axis": {"orient": "left", "title": "SER", "values": [0,0.1,0.2,0.3,0.4,0.5,0.6,0.7,0.8,0.9,1], "format": ".1f", "labelPadding": 23, "titlePadding": 26}},
               "y2": {"field": "hi"},
               "color": {"field": "s", "type": "nominal"},
               "strokeDash": {"field": "s", "type": "nominal"}
             }},
            {"mark": {"type": "point", "shape": "stroke", "filled": false, "size": 144, "strokeWidth": 1.2, "opacity": 1, "clip": true},
             "encoding": {
               "x": {"field": "x", "type": "quantitative", "axis": {"orient": "top", "title": null, "labels": false, "values": [25,50,75,100,125,150,175,200,225,250,275,300]}},
               "y": {"field": "hi", "type": "quantitative", "axis": {"orient": "right", "title": null, "labels": false, "values": [0,0.1,0.2,0.3,0.4,0.5,0.6,0.7,0.8,0.9,1]}},
               "color": {"field": "s", "type": "nominal"}
             }},
            {"mark": {"type": "point", "shape": "stroke", "filled": false, "size": 144, "strokeWidth": 1.2, "opacity": 1, "clip": true},
             "encoding": {"color": {"field": "s", "type": "nominal"}}},
            {"mark": {"type": "line", "strokeWidth": 1, "clip": true},
             "encoding": {"color": {"field": "s", "type": "nominal"}, "strokeDash": {"field": "s", "type": "nominal"}}},
            {"transform": [{"filter": "datum.s === 'SVT-S-1:c23'"}], "mark": {"type": "point", "shape": "square", "filled": false, "color": "#ff0000", "size": 60, "strokeWidth": 1.2, "opacity": 1, "clip": true}},
            {"transform": [{"filter": "datum.s === 'SVT-ReTr-1:c23-1D'"}], "mark": {"type": "point", "shape": "square", "filled": true, "color": "#00ff00", "size": 60, "opacity": 1, "clip": true}},
            {"transform": [{"filter": "datum.s === 'SVT-ReTr-1:c23-2D'"}], "mark": {"type": "point", "shape": "circle", "filled": false, "color": "#a52a2a", "size": 55, "strokeWidth": 1.2, "opacity": 1, "clip": true}},
            {"transform": [{"filter": "datum.s === 'SVT-ReTr-1:c23-3D'"}], "mark": {"type": "point", "shape": "circle", "filled": true, "color": "#000000", "size": 55, "opacity": 1, "clip": true}},
            {"transform": [{"filter": "datum.s === 'SVT-ReTr-1:c23-4D'"}], "mark": {"type": "point", "shape": "triangle-up", "filled": false, "color": "#00ffff", "size": 60, "strokeWidth": 1.2, "opacity": 1, "clip": true}},
            {"transform": [{"filter": "datum.s === 'SVT-ReTr-1:c23-5D'"}], "mark": {"type": "point", "shape": "triangle-up", "filled": true, "color": "#ff00ff", "size": 60, "opacity": 1, "clip": true}},
            {"transform": [{"filter": "datum.s === 'EM'"}], "mark": {"type": "point", "shape": "M0,-1L0.951,-0.309L0.588,0.809L-0.588,0.809L-0.951,-0.309Z", "filled": false, "color": "#0000ff", "size": 60, "strokeWidth": 1.2, "opacity": 1, "clip": true}}
          ],
          "resolve": {"axis": {"x": "independent", "y": "independent"}}
        },
        {
          "width": 415, "height": 262,
          "data": {"name": "runs"},
          "transform": [{"filter": "datum.p === 'h'"}],
          "title": {"text": "(h) Zipf Synthe, FNR", "orient": "bottom", "anchor": "middle", "frame": "bounds", "offset": 24, "font": "Liberation Serif", "fontSize": 32, "fontWeight": "normal", "color": "black"},
          "encoding": {
            "x": {"field": "x", "type": "quantitative", "scale": {"domain": [25, 300], "nice": false, "zero": false}, "axis": null},
            "y": {"field": "y", "type": "quantitative", "scale": {"domain": [0, 1], "nice": false, "zero": false}, "axis": null}
          },
          "layer": [
            {"mark": {"type": "rule", "strokeWidth": 1, "clip": true},
             "encoding": {
               "x": {"field": "x", "type": "quantitative", "scale": {"domain": [25, 300], "nice": false, "zero": false}, "axis": {"orient": "bottom", "title": null, "values": [25,50,75,100,125,150,175,200,225,250,275,300], "labelFlush": false, "labelPadding": 19}},
               "y": {"field": "y", "type": "quantitative", "scale": {"domain": [0, 1], "nice": false, "zero": false}, "axis": {"orient": "left", "title": "FNR", "values": [0,0.1,0.2,0.3,0.4,0.5,0.6,0.7,0.8,0.9,1], "format": ".1f", "labelPadding": 23, "titlePadding": 26}},
               "y2": {"field": "hi"},
               "color": {"field": "s", "type": "nominal"},
               "strokeDash": {"field": "s", "type": "nominal"}
             }},
            {"mark": {"type": "point", "shape": "stroke", "filled": false, "size": 144, "strokeWidth": 1.2, "opacity": 1, "clip": true},
             "encoding": {
               "x": {"field": "x", "type": "quantitative", "axis": {"orient": "top", "title": null, "labels": false, "values": [25,50,75,100,125,150,175,200,225,250,275,300]}},
               "y": {"field": "hi", "type": "quantitative", "axis": {"orient": "right", "title": null, "labels": false, "values": [0,0.1,0.2,0.3,0.4,0.5,0.6,0.7,0.8,0.9,1]}},
               "color": {"field": "s", "type": "nominal"}
             }},
            {"mark": {"type": "point", "shape": "stroke", "filled": false, "size": 144, "strokeWidth": 1.2, "opacity": 1, "clip": true},
             "encoding": {"color": {"field": "s", "type": "nominal"}}},
            {"mark": {"type": "line", "strokeWidth": 1, "clip": true},
             "encoding": {"color": {"field": "s", "type": "nominal"}, "strokeDash": {"field": "s", "type": "nominal"}}},
            {"transform": [{"filter": "datum.s === 'SVT-S-1:c23'"}], "mark": {"type": "point", "shape": "square", "filled": false, "color": "#ff0000", "size": 60, "strokeWidth": 1.2, "opacity": 1, "clip": true}},
            {"transform": [{"filter": "datum.s === 'SVT-ReTr-1:c23-1D'"}], "mark": {"type": "point", "shape": "square", "filled": true, "color": "#00ff00", "size": 60, "opacity": 1, "clip": true}},
            {"transform": [{"filter": "datum.s === 'SVT-ReTr-1:c23-2D'"}], "mark": {"type": "point", "shape": "circle", "filled": false, "color": "#a52a2a", "size": 55, "strokeWidth": 1.2, "opacity": 1, "clip": true}},
            {"transform": [{"filter": "datum.s === 'SVT-ReTr-1:c23-3D'"}], "mark": {"type": "point", "shape": "circle", "filled": true, "color": "#000000", "size": 55, "opacity": 1, "clip": true}},
            {"transform": [{"filter": "datum.s === 'SVT-ReTr-1:c23-4D'"}], "mark": {"type": "point", "shape": "triangle-up", "filled": false, "color": "#00ffff", "size": 60, "strokeWidth": 1.2, "opacity": 1, "clip": true}},
            {"transform": [{"filter": "datum.s === 'SVT-ReTr-1:c23-5D'"}], "mark": {"type": "point", "shape": "triangle-up", "filled": true, "color": "#ff00ff", "size": 60, "opacity": 1, "clip": true}},
            {"transform": [{"filter": "datum.s === 'EM'"}], "mark": {"type": "point", "shape": "M0,-1L0.951,-0.309L0.588,0.809L-0.588,0.809L-0.951,-0.309Z", "filled": false, "color": "#0000ff", "size": 60, "strokeWidth": 1.2, "opacity": 1, "clip": true}}
          ],
          "resolve": {"axis": {"x": "independent", "y": "independent"}}
        }
      ]
    }
  ]
}
